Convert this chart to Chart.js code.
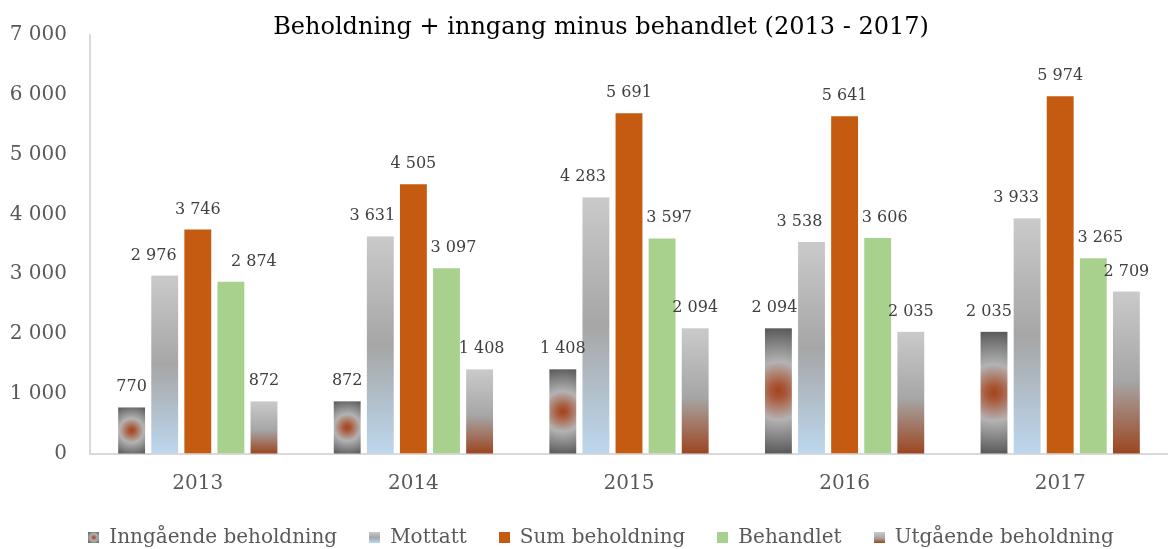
<!DOCTYPE html>
<html><head><meta charset="utf-8">
<script src="https://cdn.jsdelivr.net/npm/chart.js@4.4.1/dist/chart.umd.min.js"></script>
<style>html,body{margin:0;padding:0;background:#fff}#wrap{width:1168px;height:549px}</style>
</head><body><div id="wrap"><canvas id="c" width="1168" height="549"></canvas></div>
<script>
const categories = ['2013', '2014', '2015', '2016', '2017'];
const seriesNames = ['Inngående beholdning', 'Mottatt', 'Sum beholdning', 'Behandlet', 'Utgående beholdning'];
const inngaende = [770, 872, 1408, 2094, 2035];
const mottatt = [2976, 3631, 4283, 3538, 3933];
const sumBeholdning = [3746, 4505, 5691, 5641, 5974];
const behandlet = [2874, 3097, 3597, 3606, 3265];
const utgaende = [872, 1408, 2094, 2035, 2709];
const yTickValues = [0, 1000, 2000, 3000, 4000, 5000, 6000, 7000];
const titleText = 'Beholdning + inngang minus behandlet (2013 - 2017)';

// small horizontal nudges (px) of the value labels, as in the original chart
const labelNudge = [
  [0, 0, 0, -4, -5],
  [-11, -8, -13, -12, -11],
  [0, 0, 0, 0, 0],
  [23, 7, 7, 7, 7],
  [0, 2, 0, 0, 0]
];

const FONT = "'DejaVu Serif', serif";
const fills = ['radial', 'mottatt', '#c55a11', '#a9d18e', 'utgaende'];

function fmt(v) { return String(v).replace(/\B(?=(\d{3})+(?!\d))/g, ' '); }

function makeFill(ctx, kind, left, top, w, h) {
  if (kind === 'radial') {
    const cx = left + w / 2, cy = top + h / 2;
    const r = Math.sqrt((w / 2) * (w / 2) + (h / 2) * (h / 2));
    const g = ctx.createRadialGradient(cx, cy, 0, cx, cy, r);
    g.addColorStop(0, '#a5441c');
    g.addColorStop(0.12, '#a9583a');
    g.addColorStop(0.45, '#b3b3b3');
    g.addColorStop(1, '#575757');
    return g;
  }
  const g = ctx.createLinearGradient(0, top, 0, top + h);
  if (kind === 'mottatt') {
    g.addColorStop(0, '#cacaca');
    g.addColorStop(0.5, '#a6a6a6');
    g.addColorStop(1, '#bdd7ee');
  } else {
    g.addColorStop(0, '#cacaca');
    g.addColorStop(0.55, '#a6a6a6');
    g.addColorStop(1, '#9c4622');
  }
  return g;
}

function legendImage(kind) {
  const cv = document.createElement('canvas');
  cv.width = 11; cv.height = 11;
  const c = cv.getContext('2d');
  c.fillStyle = kind.startsWith('#') ? kind : makeFill(c, kind, 0, 0, 11, 11);
  c.fillRect(0, 0, 11, 11);
  return cv;
}

const seriesData = [inngaende, mottatt, sumBeholdning, behandlet, utgaende];
const datasets = seriesData.map((d, i) => ({
  label: seriesNames[i],
  data: d,
  backgroundColor: fills[i].startsWith('#') ? fills[i] : 'rgba(0,0,0,0)',
  borderWidth: 0,
  categoryPercentage: 0.7675,
  barPercentage: 0.812
}));

const gradientPlugin = {
  id: 'gradientBars',
  afterLayout(chart) {
    chart.scales.y._computeLabelArea = function () { return undefined; };
  },
  afterDatasetDraw(chart, args) {
    const kind = fills[args.index];
    if (kind.startsWith('#')) return;
    const ctx = chart.ctx;
    ctx.save();
    args.meta.data.forEach(el => {
      const p = el.getProps(['x', 'y', 'base', 'width'], true);
      const left = p.x - p.width / 2;
      const top = Math.min(p.y, p.base);
      const h = Math.abs(p.base - p.y);
      ctx.fillStyle = makeFill(ctx, kind, left, top, p.width, h);
      ctx.fillRect(left, top, p.width, h);
    });
    ctx.restore();
  }
};

const labelPlugin = {
  id: 'valueLabels',
  afterDatasetsDraw(chart) {
    const ctx = chart.ctx;
    ctx.save();
    ctx.font = '16px ' + FONT;
    ctx.fillStyle = '#404040';
    ctx.textAlign = 'center';
    ctx.textBaseline = 'alphabetic';
    chart.data.datasets.forEach((ds, i) => {
      const meta = chart.getDatasetMeta(i);
      meta.data.forEach((el, j) => {
        ctx.fillText(fmt(ds.data[j]), el.x + labelNudge[i][j], el.y - 16);
      });
    });
    ctx.restore();
  }
};

new Chart(document.getElementById('c'), {
  type: 'bar',
  data: { labels: categories, datasets },
  plugins: [gradientPlugin, labelPlugin],
  options: {
    responsive: false,
    animation: false,
    devicePixelRatio: 1,
    layout: { padding: { left: 29, right: -5, top: 0, bottom: -8.5 } },
    plugins: {
      title: {
        display: true,
        text: titleText,
        color: '#000000',
        font: { family: FONT, size: 24, weight: 'normal', lineHeight: 1 },
        padding: { top: 12, bottom: -5 }
      },
      legend: {
        position: 'bottom',
        labels: {
          usePointStyle: true,
          pointStyleWidth: 11,
          color: '#595959',
          font: { family: FONT, size: 20 },
          padding: 32,
          generateLabels(chart) {
            return chart.data.datasets.map((ds, i) => ({
              text: ds.label,
              pointStyle: legendImage(fills[i]),
              fillStyle: 'transparent',
              strokeStyle: 'transparent',
              lineWidth: 0,
              fontColor: '#595959',
              hidden: false,
              datasetIndex: i
            }));
          }
        }
      },
      tooltip: { enabled: false }
    },
    scales: {
      x: {
        afterFit(scale) { scale.height = 42; },
        grid: { display: false, drawTicks: false },
        border: { display: true, color: '#d9d9d9', width: 2 },
        ticks: { color: '#595959', font: { family: FONT, size: 20 }, padding: 18 }
      },
      y: {
        min: 0, max: 7000,
        afterFit(scale) { scale.width = 61; },
        afterBuildTicks(scale) { scale.ticks = yTickValues.map(v => ({ value: v })); },
        grid: { display: false, drawTicks: false },
        border: { display: true, color: '#d9d9d9', width: 2 },
        ticks: { color: '#595959', font: { family: FONT, size: 20 }, padding: 23, callback: v => fmt(v) }
      }
    }
  }
});
</script></body></html>
